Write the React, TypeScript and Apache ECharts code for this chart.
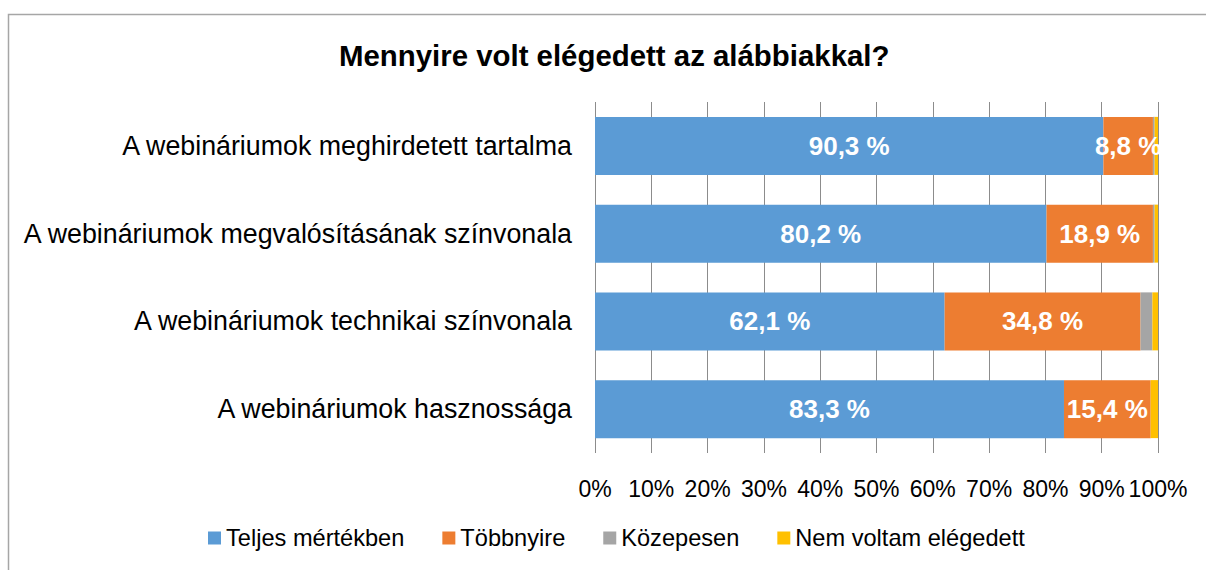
import React, { useEffect, useRef } from "react";
import * as echarts from "echarts";

const categories = [
  "A webináriumok meghirdetett tartalma",
  "A webináriumok megvalósításának színvonala",
  "A webináriumok technikai színvonala",
  "A webináriumok hasznossága",
];
const seriesNames = ["Teljes mértékben", "Többnyire", "Közepesen", "Nem voltam elégedett"];
const teljes = [90.3, 80.2, 62.1, 83.3];
const tobbnyire = [8.8, 18.9, 34.8, 15.4];
const kozepesen = [0.3, 0.3, 2.1, 0];
const nem = [0.6, 0.6, 1.0, 1.3];
const colors = ["#5B9BD5", "#ED7D31", "#A5A5A5", "#FFC000"];
const xTicks = [0, 10, 20, 30, 40, 50, 60, 70, 80, 90, 100];

export default function App() {
  const ref = useRef<HTMLDivElement>(null);
  useEffect(() => {
    document.body.style.margin = "0";
    const chart = echarts.init(ref.current!, null, { renderer: "svg" });
    const font = "Liberation Sans, Arial, sans-serif";
    const values = [teljes, tobbnyire, kozepesen, nem];
    chart.setOption({
      animation: false,
      textStyle: { fontFamily: font },
      title: {
        text: "Mennyire volt elégedett az alábbiakkal?",
        left: 334,
        top: 36,
        textStyle: { fontSize: 29.4, fontWeight: "bold", color: "#000", fontFamily: font },
      },
      graphic: [
        {
          type: "rect",
          shape: { x: 8.5, y: 14.5, width: 1300, height: 700 },
          style: { fill: "none", stroke: "#a6a6a6", lineWidth: 1.5 },
          silent: true,
        },
      ],
      legend: {
        bottom: 15,
        left: 203,
        itemWidth: 13,
        itemHeight: 13,
        itemGap: 38,
        icon: "rect",
        textStyle: { fontSize: 23.6, color: "#000", fontFamily: font },
        data: seriesNames,
      },
      grid: { left: 595, right: 48, top: 102, height: 351 },
      xAxis: {
        type: "value",
        min: 0,
        max: 100,
        interval: 10,
        axisLine: { show: false },
        axisTick: { show: false },
        splitLine: { lineStyle: { color: "#8c8c8c", width: 1 } },
        axisLabel: {
          formatter: (v: number) => (xTicks.includes(v) ? v + "%" : ""),
          fontSize: 23,
          color: "#000",
          margin: 24,
          fontFamily: font,
        },
      },
      yAxis: {
        type: "category",
        inverse: true,
        data: categories,
        axisLine: { show: false },
        axisTick: { show: false },
        axisLabel: { fontSize: 26.8, color: "#000", margin: 23, fontFamily: font },
      },
      series: seriesNames.map((name, i) => ({
        name,
        type: "bar",
        stack: "total",
        barWidth: 58,
        itemStyle: { color: colors[i] },
        label: {
          show: i < 2,
          position: "inside",
          color: "#fff",
          fontWeight: "bold",
          fontSize: 26,
          fontFamily: font,
          formatter: (p: any) => String(p.value).replace(".", ",") + " %",
        },
        labelLayout: { hideOverlap: false },
        data: values[i],
      })),
    });
    return () => chart.dispose();
  }, []);
  return <div ref={ref} style={{ width: 1206, height: 570 }} />;
}
